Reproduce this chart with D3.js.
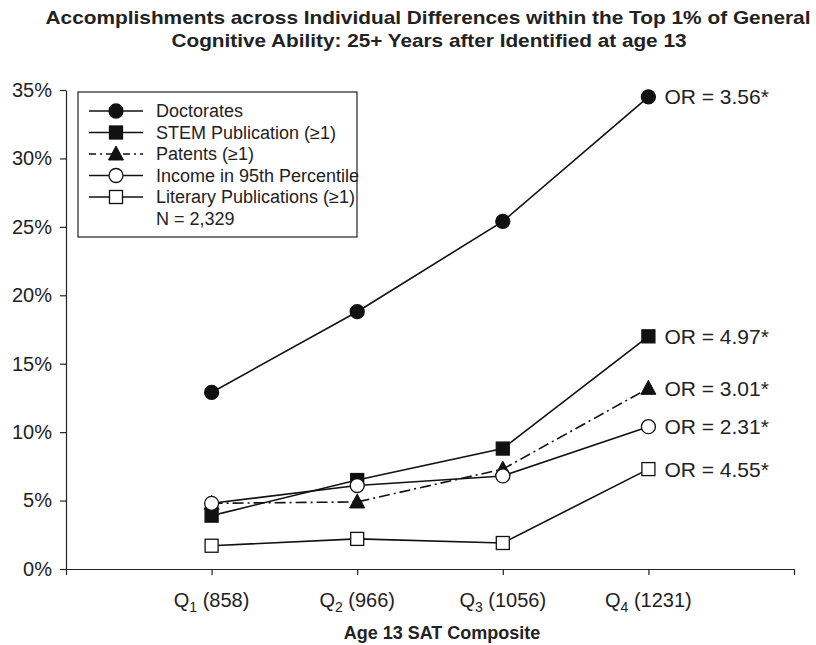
<!DOCTYPE html>
<html>
<head>
<meta charset="utf-8">
<script src="https://cdn.jsdelivr.net/npm/d3@7"></script>
<style>
  body { margin: 0; background: #fff; }
  svg { font-family: "Liberation Sans", Arial, Helvetica, sans-serif; }
</style>
</head>
<body>
<svg id="chart" width="816" height="645"></svg>
<script>
// categories (quartiles of age 13 SAT composite)
var quartiles = ["1", "2", "3", "4"];
var satMeans = ["858", "966", "1056", "1231"];

// percent achieving each outcome per quartile
var doctorates = [12.9, 18.8, 25.4, 34.5];
var stemPubs = [3.9, 6.5, 8.8, 17.0];
var patents = [4.8, 4.9, 7.3, 13.2];
var income95 = [4.8, 6.1, 6.8, 10.4];
var literaryPubs = [1.7, 2.2, 1.9, 7.3];

var seriesNames = ["Doctorates", "STEM Publication (\u22651)", "Patents (\u22651)", "Income in 95th Percentile", "Literary Publications (\u22651)"];
var oddsRatios = ["3.56*", "4.97*", "3.01*", "2.31*", "4.55*"];
var yTicks = [0, 5, 10, 15, 20, 25, 30, 35];

var series = [
  { name: seriesNames[0], values: doctorates, marker: "circle", fill: "#111", dash: null, or: oddsRatios[0] },
  { name: seriesNames[1], values: stemPubs, marker: "square", fill: "#111", dash: null, or: oddsRatios[1] },
  { name: seriesNames[2], values: patents, marker: "triangle", fill: "#111", dash: "11,4,2,4", or: oddsRatios[2] },
  { name: seriesNames[3], values: income95, marker: "circle", fill: "#fff", dash: null, or: oddsRatios[3] },
  { name: seriesNames[4], values: literaryPubs, marker: "square", fill: "#fff", dash: null, or: oddsRatios[4] }
];

var svg = d3.select("#chart");

// x runs over 0..5 with the quartiles sitting at 1..4
var x = d3.scaleLinear().domain([0, 5]).range([66, 794]);
var y = d3.scaleLinear().domain([0, 35]).range([569, 90]);

// title
var title = svg.append("text")
  .attr("text-anchor", "middle")
  .attr("font-weight", "bold")
  .attr("font-size", 19)
  .attr("fill", "#222");
title.append("tspan").attr("x", 428).attr("y", 24)
  .attr("textLength", 765).attr("lengthAdjust", "spacingAndGlyphs")
  .text("Accomplishments across Individual Differences within the Top 1% of General");
title.append("tspan").attr("x", 429).attr("y", 47)
  .attr("textLength", 515).attr("lengthAdjust", "spacingAndGlyphs")
  .text("Cognitive Ability: 25+ Years after Identified at age 13");

// y axis
var yAxis = svg.append("g")
  .attr("transform", "translate(66,0)")
  .call(d3.axisLeft(y).tickValues(yTicks).tickFormat(function(d) { return d + "%"; })
    .tickSize(6).tickSizeOuter(0).tickPadding(8));
yAxis.selectAll("text").attr("font-size", 20).attr("fill", "#222").attr("font-family", "Liberation Sans, Arial, sans-serif");
yAxis.selectAll("line, path").attr("stroke", "#222").attr("stroke-width", 1.2);

// x axis
var xAxis = svg.append("g")
  .attr("transform", "translate(0,569)")
  .call(d3.axisBottom(x).tickValues([0, 1, 2, 3, 4, 5]).tickFormat("").tickSize(6).tickSizeOuter(0));
xAxis.selectAll("line, path").attr("stroke", "#222").attr("stroke-width", 1.2);

// x tick labels with subscripted quartile numbers
quartiles.forEach(function(q, i) {
  var t = svg.append("text")
    .attr("x", x(i + 1))
    .attr("y", 607)
    .attr("text-anchor", "middle")
    .attr("font-size", 20)
    .attr("fill", "#222");
  t.append("tspan").text("Q");
  t.append("tspan").attr("font-size", 14).attr("dy", 5).text(q);
  t.append("tspan").attr("dy", -5).text(" (" + satMeans[i] + ")");
});

// x axis title
svg.append("text")
  .attr("x", 442)
  .attr("y", 639)
  .attr("text-anchor", "middle")
  .attr("font-weight", "bold")
  .attr("font-size", 18)
  .attr("fill", "#222")
  .text("Age 13 SAT Composite");

function drawMarker(g, type, cx, cy, fill) {
  if (type === "circle") {
    g.append("circle").attr("cx", cx).attr("cy", cy).attr("r", 7)
      .attr("fill", fill).attr("stroke", "#111").attr("stroke-width", 1.3);
  } else if (type === "square") {
    g.append("rect").attr("x", cx - 6.5).attr("y", cy - 6.5).attr("width", 13).attr("height", 13)
      .attr("fill", fill).attr("stroke", "#111").attr("stroke-width", 1.3);
  } else {
    g.append("path")
      .attr("d", "M" + cx + "," + (cy - 8) + "L" + (cx + 7.5) + "," + (cy + 6) + "L" + (cx - 7.5) + "," + (cy + 6) + "Z")
      .attr("fill", fill).attr("stroke", "#111").attr("stroke-width", 1);
  }
}

var line = d3.line()
  .x(function(d, i) { return x(i + 1); })
  .y(function(d) { return y(d); });

// draw back to front so the open markers sit on top, as in the original
var order = [0, 2, 1, 4, 3];
order.forEach(function(k) {
  var s = series[k];
  var g = svg.append("g");
  g.append("path")
    .attr("d", line(s.values))
    .attr("fill", "none")
    .attr("stroke", "#111")
    .attr("stroke-width", 1.6)
    .attr("stroke-dasharray", s.dash);
  s.values.forEach(function(v, i) {
    drawMarker(g, s.marker, x(i + 1), y(v), s.fill);
  });
});

// odds ratio labels beside the Q4 points
series.forEach(function(s) {
  svg.append("text")
    .attr("x", x(4) + 16)
    .attr("y", y(s.values[3]))
    .attr("dy", "0.36em")
    .attr("font-size", 21)
    .attr("fill", "#222")
    .text("OR = " + s.or);
});

// legend
var legend = svg.append("g");
legend.append("rect")
  .attr("x", 78).attr("y", 92).attr("width", 279).attr("height", 145)
  .attr("fill", "#fff").attr("stroke", "#222").attr("stroke-width", 1.2);

series.forEach(function(s, i) {
  var ly = 111 + i * 21.5;
  var g = legend.append("g");
  g.append("line")
    .attr("x1", 89).attr("x2", 143).attr("y1", ly).attr("y2", ly)
    .attr("stroke", "#111").attr("stroke-width", 1.6)
    .attr("stroke-dasharray", s.dash ? "7,4,2,4" : null);
  drawMarker(g, s.marker, 116, ly, s.fill);
  g.append("text")
    .attr("x", 156).attr("y", ly).attr("dy", "0.36em")
    .attr("font-size", 18).attr("fill", "#222")
    .text(s.name);
});
legend.append("text")
  .attr("x", 156).attr("y", 111 + 5 * 21.5).attr("dy", "0.36em")
  .attr("font-size", 18).attr("fill", "#222")
  .text("N = 2,329");
</script>
</body>
</html>
